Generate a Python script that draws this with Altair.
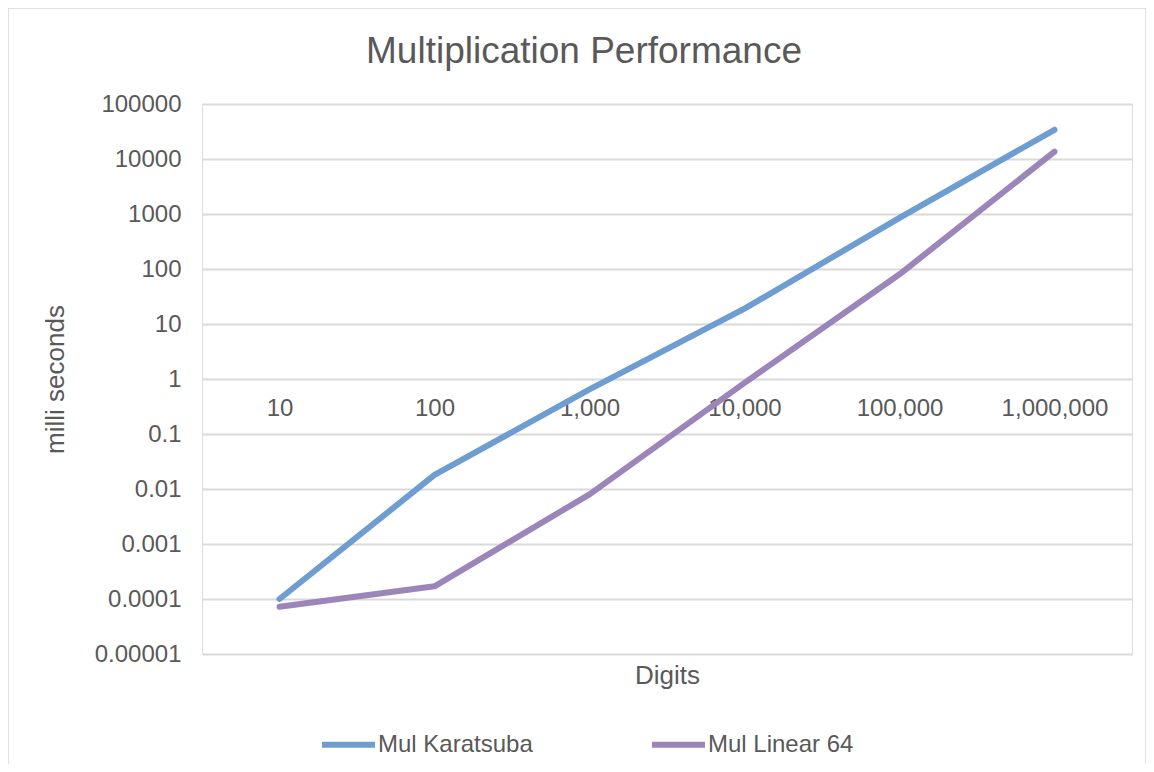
import altair as alt
import pandas as pd

digits = ["10", "100", "1,000", "10,000", "100,000", "1,000,000"]
karatsuba = [0.0001, 0.018, 0.65, 19, 850, 34000]
linear64 = [0.000072, 0.00017, 0.008, 0.85, 80, 13600]
series_names = ["Mul Karatsuba", "Mul Linear 64"]
series_colors = ["#6E9DD1", "#9C85B9"]
y_ticks = [1e-5, 1e-4, 1e-3, 1e-2, 1e-1, 1, 10, 100, 1000, 10000, 100000]

rows = []
for d, k, l in zip(digits, karatsuba, linear64):
    rows.append({"Digits": d, "series": series_names[0], "ms": k})
    rows.append({"Digits": d, "series": series_names[1], "ms": l})
df = pd.DataFrame(rows)

FONT = "Liberation Sans"
TXT = "#595959"
W, H = 930, 550

frame = alt.Chart(pd.DataFrame({"a": [0]})).mark_rect(
    fillOpacity=0, stroke="#D9D9D9", strokeWidth=1.5
).encode(
    x=alt.value(-194), x2=alt.value(944), y=alt.value(-96), y2=alt.value(700)
)

lines = alt.Chart(df).mark_line(strokeWidth=6, strokeCap="round", strokeJoin="round").encode(
    x=alt.X("Digits:N", sort=digits,
            scale=alt.Scale(type="point", padding=0.5),
            axis=alt.Axis(title="Digits", offset=-275, domain=False, ticks=False, grid=False,
                          labelAngle=0, labelPadding=17, labelFontSize=24, labelColor=TXT,
                          labelFont=FONT, titleFont=FONT, titleFontSize=26, titleColor=TXT,
                          titleFontWeight="normal", titleY=304, titleBaseline="alphabetic")),
    y=alt.Y("ms:Q",
            scale=alt.Scale(type="log", domain=[1e-5, 1e5], nice=False),
            axis=alt.Axis(title="milli seconds", values=y_ticks, format="~f", domain=False,
                          ticks=False, grid=True, gridColor="#D9D9D9", gridWidth=2,
                          labelPadding=21, labelFontSize=24, labelColor=TXT, labelFont=FONT,
                          titleFont=FONT, titleFontSize=26, titleColor=TXT, titleFontWeight="normal",
                          titleX=-147, titleY=275, titleAngle=270, titleAlign="center",
                          titleBaseline="middle")),
    color=alt.Color("series:N", sort=series_names,
                    scale=alt.Scale(domain=series_names, range=series_colors),
                    legend=alt.Legend(title=None, orient="none", direction="horizontal",
                                      legendX=117, legendY=611, padding=0,
                                      symbolType="stroke", symbolSize=2809, symbolStrokeWidth=6,
                                      labelOffset=0, columnPadding=107,
                                      labelFontSize=24, labelColor=TXT, labelFont=FONT)),
)

chart = alt.layer(frame, lines).properties(
    width=W, height=H,
    autosize=alt.AutoSizeParams(type="none"),
    padding={"left": 194, "top": 96, "right": 14, "bottom": 110},
    title=alt.TitleParams("Multiplication Performance", fontSize=37, font=FONT, color=TXT,
                          fontWeight="normal", anchor="middle", frame="group", dx=-83,
                          baseline="alphabetic", offset=-93),
).configure_view(stroke=None).configure(background="white")

chart.save("out.html", embed_options={"renderer": "svg", "actions": False})
